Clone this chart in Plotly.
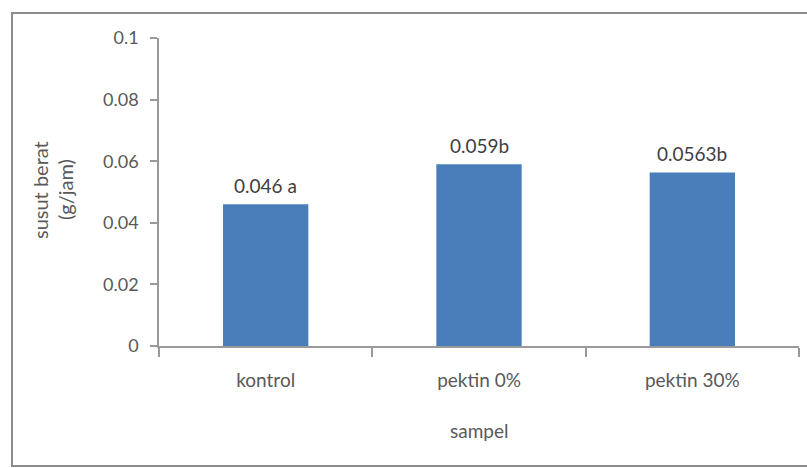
import plotly.graph_objects as go

# Data
sampel = ["kontrol", "pektin 0%", "pektin 30%"]
susut_berat = [0.046, 0.059, 0.0563]
notasi = ["0.046 a", "0.059b", "0.0563b"]
y_ticks = [0, 0.02, 0.04, 0.06, 0.08, 0.1]
y_ticktext = ["0", "0.02", "0.04", "0.06", "0.08", "0.1"]

W, H = 807, 468
L, R, T, B = 159, 8, 38, 122
PW, PH = W - L - R, H - T - B

FONT = "Lato"
TXT = "#595959"
AXIS = "#9a9a9a"

fig = go.Figure()
fig.add_trace(go.Bar(
    x=sampel,
    y=susut_berat,
    marker=dict(color="#4a7ebb", line=dict(width=0)),
    hoverinfo="skip",
))

# value labels above bars
for cat, val, txt in zip(sampel, susut_berat, notasi):
    fig.add_annotation(
        x=cat, y=val, text=txt, showarrow=False,
        xref="x", yref="y", yanchor="middle", yshift=19,
        font=dict(family=FONT, size=19, color="#404040"),
    )

# y-axis title in two lines
fig.add_annotation(
    text="susut berat", textangle=-90, showarrow=False,
    xref="paper", yref="paper",
    x=(40 - L) / PW, y=(H - B - 190) / PH,
    xanchor="center", yanchor="middle",
    font=dict(family=FONT, size=20, color=TXT),
)
fig.add_annotation(
    text="(g/jam)", textangle=-90, showarrow=False,
    xref="paper", yref="paper",
    x=(65 - L) / PW, y=(H - B - 190) / PH,
    xanchor="center", yanchor="middle",
    font=dict(family=FONT, size=20, color=TXT),
)

# x-axis title
fig.add_annotation(
    text="sampel", showarrow=False,
    xref="paper", yref="paper",
    x=0.5, y=(H - B - 430) / PH,
    xanchor="center", yanchor="middle",
    font=dict(family=FONT, size=19, color=TXT),
)

# chart frame
fig.add_shape(
    type="rect", xref="paper", yref="paper",
    x0=(12 - L) / PW, x1=(820 - L) / PW,
    y0=(H - B - 466) / PH, y1=(H - B - 13) / PH,
    line=dict(color="#8c8c8c", width=2), fillcolor="rgba(0,0,0,0)",
    layer="below",
)

fig.update_layout(
    width=W, height=H,
    margin=dict(l=L, r=R, t=T, b=B),
    paper_bgcolor="white", plot_bgcolor="white",
    bargap=0.6,
    showlegend=False,
    font=dict(family=FONT, size=18, color=TXT),
    xaxis=dict(
        type="category",
        showline=True, linecolor=AXIS, linewidth=1.5,
        ticks="outside", tickson="boundaries", ticklen=9, tickcolor=AXIS, tickwidth=1.5,
        showgrid=False, zeroline=False,
        tickfont=dict(family=FONT, size=19, color=TXT),
        ticklabelstandoff=16,
    ),
    yaxis=dict(
        range=[0, 0.1],
        tickvals=y_ticks, ticktext=y_ticktext,
        showline=True, linecolor=AXIS, linewidth=1.5,
        ticks="outside", ticklen=7, tickcolor=AXIS, tickwidth=1.5,
        showgrid=False, zeroline=False,
        tickfont=dict(family=FONT, size=18, color=TXT),
        ticklabelstandoff=8,
    ),
)

fig.write_html("out.html")
